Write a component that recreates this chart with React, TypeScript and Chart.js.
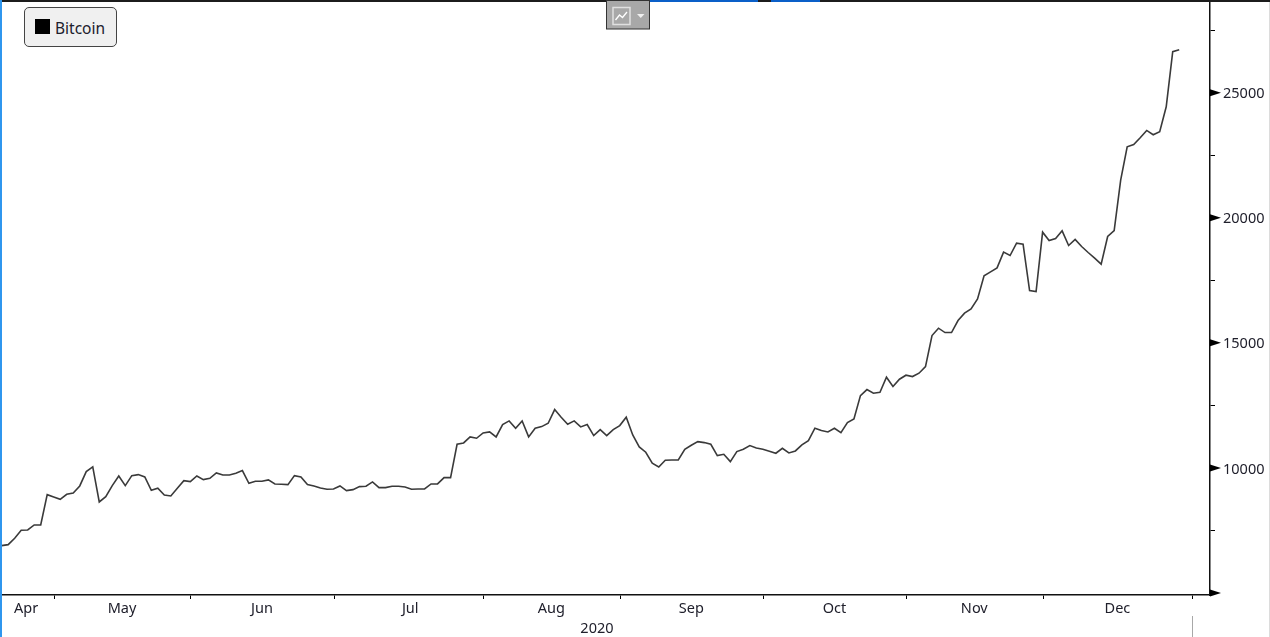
import React, { useEffect, useRef } from "react";
import { Chart, registerables } from "chart.js";

Chart.register(...registerables);

const seriesName = "Bitcoin";
const bitcoin = [
  6893, 6933, 7187, 7507, 7520, 7720, 7720, 8933, 8840, 8747, 8947, 9000, 9280, 9853, 10040, 8640,
  8853, 9293, 9680, 9293, 9693, 9733, 9640, 9107, 9187, 8920, 8880, 9187, 9493, 9453, 9680, 9533,
  9587, 9800, 9720, 9720, 9787, 9893, 9387, 9467, 9467, 9520, 9360, 9347, 9333, 9693, 9640, 9333,
  9280, 9200, 9147, 9160, 9280, 9093, 9133, 9253, 9267, 9440, 9213, 9213, 9267, 9267, 9240, 9147,
  9160, 9160, 9360, 9360, 9613, 9613, 10947, 11000, 11240, 11187, 11400, 11440, 11240, 11733, 11880,
  11587, 11880, 11240, 11587, 11653, 11787, 12333, 12027, 11747, 11880, 11640, 11733, 11293, 11533,
  11293, 11533, 11693, 12027, 11320, 10840, 10627, 10187, 10040, 10307, 10320, 10320, 10747, 10907,
  11053, 11013, 10947, 10493, 10547, 10253, 10653, 10747, 10893, 10800, 10747, 10667, 10587, 10787,
  10600, 10680, 10920, 11093, 11587, 11493, 11440, 11587, 11413, 11813, 11960, 12893, 13133, 12987,
  13027, 13627, 13253, 13547, 13707, 13653, 13787, 14053, 15293, 15587, 15413, 15413, 15893, 16187,
  16360, 16760, 17680, 17840, 18000, 18627, 18493, 18987, 18947, 17093, 17053, 19427, 19093, 19173,
  19480, 18893, 19133, 18853, 18613, 18387, 18147, 19253, 19493, 21507, 22840, 22933, 23200, 23493,
  23320, 23440, 24440, 26640, 26720,
];
const monthNames = ["Apr", "May", "Jun", "Jul", "Aug", "Sep", "Oct", "Nov", "Dec"];
const monthCenters = [3.75, 18.5, 40, 62.8, 84.5, 106, 128, 149.5, 171.5];
const monthBoundaries = [8.1, 29.1, 51.1, 74.1, 95.1, 117.1, 139.1, 160.1, 183.1];
const yearLabel = "2020";
const yearCenter = 91.5;
const yTicks = [5000, 7500, 10000, 12500, 15000, 17500, 20000, 22500, 25000, 27500];
const yLabelled = [10000, 15000, 20000, 25000];
const yArrowed = [5000, 10000, 15000, 20000, 25000];

const FONT = '"Noto Sans", sans-serif';
const TEXT = "#20202c";

const arrowTicks = {
  id: "arrowTicks",
  afterDraw(chart: any) {
    const { ctx, scales } = chart;
    const y = scales.y;
    ctx.save();
    ctx.fillStyle = "#000";
    yArrowed.forEach((v) => {
      const p = y.getPixelForValue(v);
      ctx.beginPath();
      ctx.moveTo(y.left, p - 3.5);
      ctx.lineTo(y.left + 11, p);
      ctx.lineTo(y.left, p + 3.5);
      ctx.closePath();
      ctx.fill();
    });
    ctx.restore();
  },
};

export default function App() {
  const ref = useRef<HTMLCanvasElement | null>(null);

  useEffect(() => {
    const chart = new Chart(ref.current as HTMLCanvasElement, {
      type: "line",
      data: {
        datasets: [
          {
            label: seriesName,
            data: bitcoin.map((y, x) => ({ x, y })),
            borderColor: "#3a3a3a",
            borderWidth: 1.6,
            pointRadius: 0,
            tension: 0,
          },
        ],
      },
      options: {
        animation: false,
        responsive: false,
        layout: { padding: { top: 2, left: 0, right: 0, bottom: 0 } },
        plugins: { legend: { display: false }, tooltip: { enabled: false } },
        scales: {
          x: {
            type: "linear",
            min: -0.257,
            max: 185.73,
            afterFit: (s: any) => {
              s.height = 42;
              s.paddingLeft = 0;
              s.paddingRight = 0;
            },
            afterBuildTicks: (s: any) => {
              const t = [
                ...monthBoundaries.map((value) => ({ value })),
                ...monthCenters.map((value) => ({ value })),
                { value: yearCenter },
              ];
              t.sort((a, b) => a.value - b.value);
              s.ticks = t;
            },
            grid: {
              drawOnChartArea: false,
              tickLength: 4,
              tickWidth: 1,
              tickColor: (c: any) =>
                c.tick && monthBoundaries.includes(c.tick.value) ? "#000" : "rgba(0,0,0,0)",
            },
            border: { color: "#111", width: 1.5 },
            ticks: {
              autoSkip: false,
              maxRotation: 0,
              minRotation: 0,
              padding: 0,
              color: TEXT,
              font: { family: FONT, size: 14.5, lineHeight: 1.38 },
              callback: (v: any) => {
                const i = monthCenters.indexOf(v);
                if (i >= 0) return monthNames[i];
                if (v === yearCenter) return ["", yearLabel];
                return "";
              },
            },
          },
          y: {
            type: "linear",
            position: "right",
            min: 4920,
            max: 28628,
            afterFit: (s: any) => {
              s.width = 60;
              s.paddingTop = 0;
              s.paddingBottom = 0;
            },
            afterBuildTicks: (s: any) => {
              s.ticks = yTicks.map((value) => ({ value }));
            },
            grid: { drawOnChartArea: false, tickLength: 5, tickWidth: 1, tickColor: "#000" },
            border: { color: "#111", width: 1.5 },
            ticks: {
              padding: 8,
              color: TEXT,
              font: { family: FONT, size: 14.5, lineHeight: "3px" },
              callback: (v: any) => (yLabelled.includes(v) ? ["", String(v)] : ""),
            },
          },
        },
      },
      plugins: [arrowTicks],
    } as any);
    return () => chart.destroy();
  }, []);

  const abs = (s: React.CSSProperties): React.CSSProperties => ({ position: "absolute", ...s });

  return (
    <div style={abs({ left: 0, top: 0, width: 1270, height: 637, overflow: "hidden", background: "#fff" })}>
      <canvas ref={ref} width={1270} height={637} style={{ display: "block" }} />
      <div style={abs({ left: 0, top: 0, width: 1270, height: 2, background: "#1c1c1c" })} />
      <div style={abs({ left: 630, top: 0, width: 128, height: 2, background: "#0a5fc8" })} />
      <div style={abs({ left: 771, top: 0, width: 49, height: 2, background: "#0a5fc8" })} />
      <div style={abs({ left: 0, top: 0, width: 2, height: 637, background: "#2f96ee" })} />
      <div style={abs({ left: 1269, top: 2, width: 1, height: 635, background: "#dcdcdc" })} />
      <div style={abs({ left: 1192, top: 616, width: 1, height: 21, background: "#a8a8a8" })} />
      <div
        style={abs({
          left: 24,
          top: 7,
          width: 93,
          height: 40,
          boxSizing: "border-box",
          background: "#f0f0f0",
          border: "1.5px solid #444",
          borderRadius: 5,
        })}
      />
      <div style={abs({ left: 35, top: 19, width: 15, height: 15, background: "#000" })} />
      <div
        style={abs({
          left: 55,
          top: 18,
          fontFamily: FONT,
          fontSize: 15.5,
          lineHeight: "20px",
          color: TEXT,
        })}
      >
        {seriesName}
      </div>
      <svg style={abs({ left: 606, top: 0 })} width={44} height={30}>
        <rect x={0.5} y={0.5} width={43} height={28.5} fill="#a8a8a8" stroke="#333" />
        <rect x={7} y={7.5} width={17} height={17} fill="none" stroke="#e0e0e0" strokeWidth={1.5} />
        <path d="M9.5 20 L13.5 15 L16.5 17.5 L21 12" fill="none" stroke="#fff" strokeWidth={1.3} />
        <path d="M31 14 L38.5 14 L34.75 18 Z" fill="#f0f0f0" />
      </svg>
    </div>
  );
}
